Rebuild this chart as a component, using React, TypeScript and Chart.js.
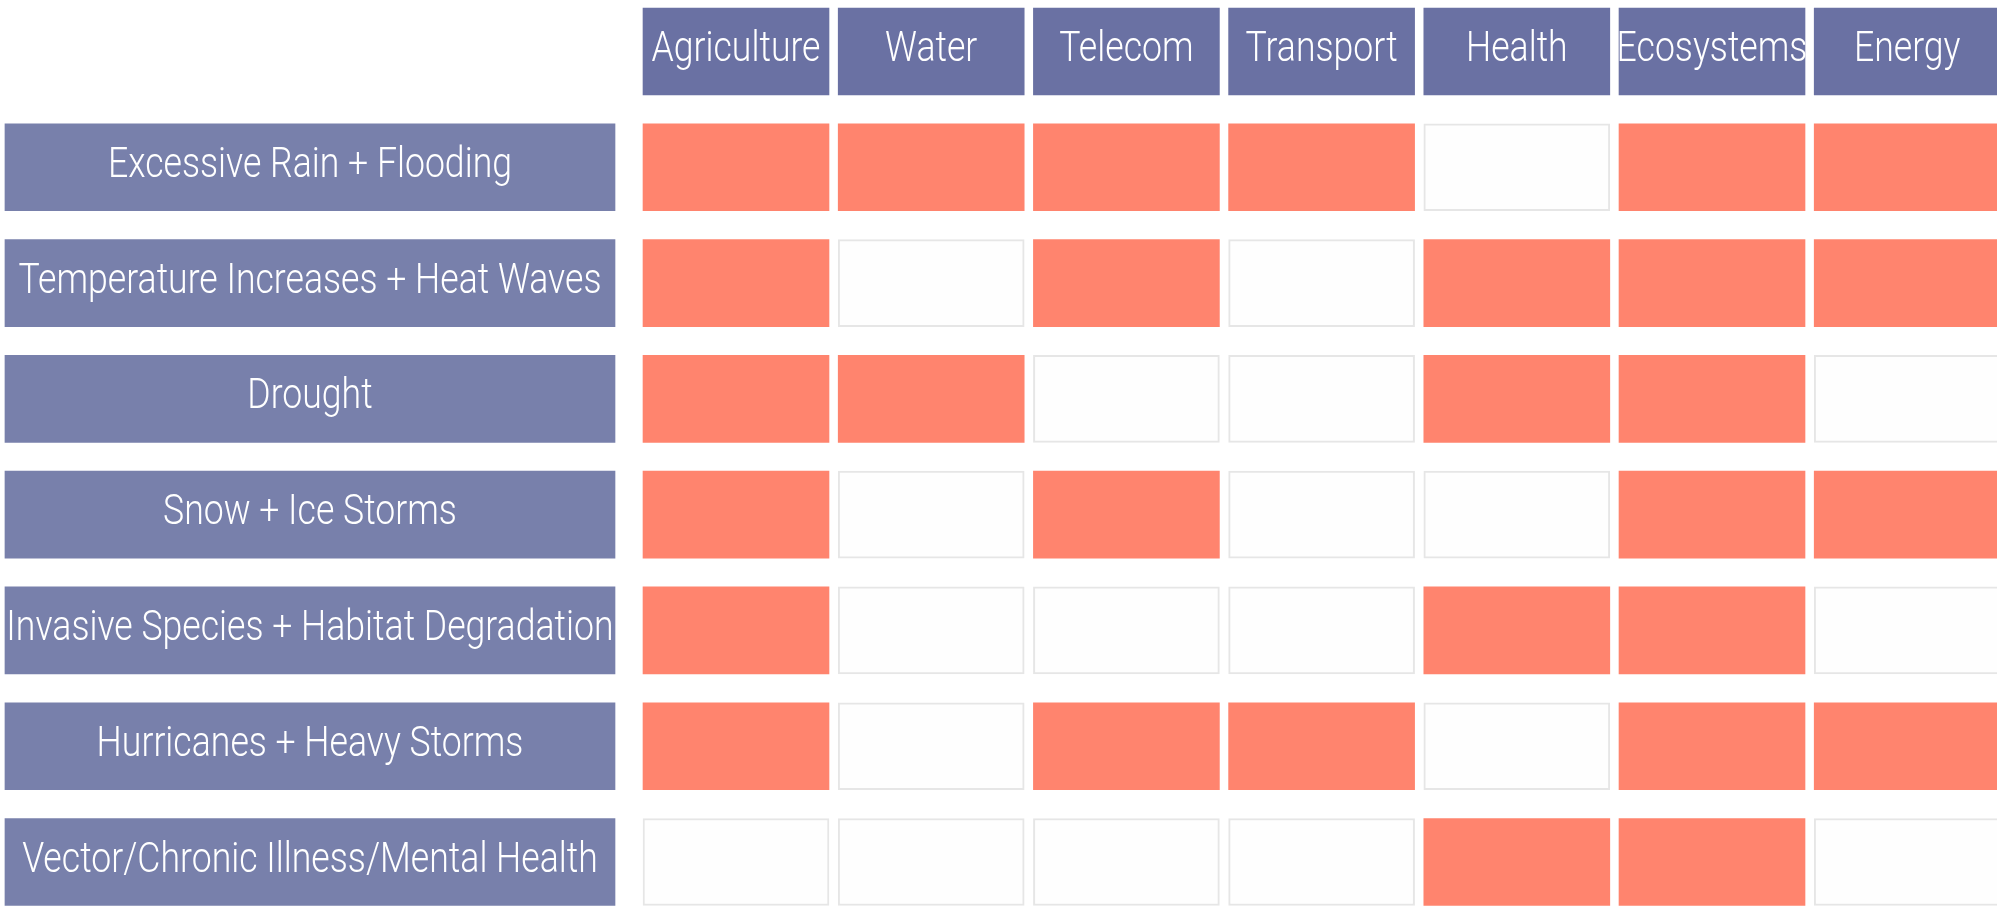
import React, { useEffect, useRef } from "react";
import { Chart, registerables } from "chart.js";

Chart.register(...registerables);

// Sectors (columns) and hazards (rows)
const sectors = ["Agriculture", "Water", "Telecom", "Transport", "Health", "Ecosystems", "Energy"];
const hazards = [
  "Excessive Rain + Flooding",
  "Temperature Increases + Heat Waves",
  "Drought",
  "Snow + Ice Storms",
  "Invasive Species + Habitat Degradation",
  "Hurricanes + Heavy Storms",
  "Vector/Chronic Illness/Mental Health",
];

// 1 = impacted (filled), 0 = not impacted; one value per hazard, in hazard order
const agriculture = [1, 1, 1, 1, 1, 1, 0];
const water = [1, 0, 1, 0, 0, 0, 0];
const telecom = [1, 1, 0, 1, 0, 1, 0];
const transport = [1, 0, 0, 0, 0, 1, 0];
const health = [0, 1, 1, 0, 1, 0, 1];
const ecosystems = [1, 1, 1, 1, 1, 1, 1];
const energy = [1, 1, 0, 1, 0, 1, 0];

const sectorValues = [agriculture, water, telecom, transport, health, ecosystems, energy];

const HEADER_COLOR = "#6a71a3";
const LABEL_COLOR = "#7880ab";
const HIT_COLOR = "#ff846e";
const EMPTY_COLOR = "#fefefe";
const EMPTY_BORDER = "#e6e6e6";
const FONT = "300 42px Roboto, 'Noto Sans', sans-serif";

export default function App() {
  const ref = useRef<HTMLCanvasElement | null>(null);

  useEffect(() => {
    document.body.style.margin = "0";
    const canvas = ref.current;
    if (!canvas) return;

    const rowLabels = ["", ...hazards];
    const HALF = 0.4764;

    const datasets: any[] = sectorValues.map((vals, i) => ({
      label: sectors[i],
      data: [[i - HALF, i + HALF], ...vals.map(() => [i - HALF, i + HALF])],
      text: [sectors[i], ...vals.map(() => null)],
      backgroundColor: (ctx: any) => {
        const idx = ctx.dataIndex;
        if (idx === 0) return HEADER_COLOR;
        return vals[idx - 1] ? HIT_COLOR : EMPTY_COLOR;
      },
      borderColor: (ctx: any) => {
        const idx = ctx.dataIndex;
        if (idx === 0) return HEADER_COLOR;
        return vals[idx - 1] ? HIT_COLOR : EMPTY_BORDER;
      },
      borderWidth: (ctx: any) => {
        const idx = ctx.dataIndex;
        if (idx === 0) return 0;
        return vals[idx - 1] ? 0 : 2;
      },
      borderSkipped: false,
      barThickness: 87,
      clip: false,
    }));

    datasets.unshift({
      label: "Hazard",
      data: [null, ...hazards.map(() => [-3.745, -0.6199])],
      text: [null, ...hazards],
      backgroundColor: LABEL_COLOR,
      borderWidth: 0,
      borderSkipped: false,
      barThickness: 87,
      clip: false,
    });

    const textPlugin = {
      id: "cellText",
      afterDatasetsDraw(chart: any) {
        const c = chart.ctx;
        c.save();
        c.fillStyle = "#ffffff";
        c.font = FONT;
        c.textAlign = "center";
        c.textBaseline = "alphabetic";
        // condensed look: squeeze the glyphs horizontally
        const refW = c.measureText(hazards[0]).width;
        const k = refW > 0 ? 404 / refW : 1;
        chart.data.datasets.forEach((ds: any, di: number) => {
          const meta = chart.getDatasetMeta(di);
          meta.data.forEach((el: any, idx: number) => {
            const t = ds.text && ds.text[idx];
            if (!t) return;
            const p = el.getProps(["x", "y", "base"], true);
            const cx = (p.x + p.base) / 2;
            c.save();
            c.translate(cx, p.y + 9.5);
            c.scale(k, 1);
            c.fillText(t, 0, 0);
            c.restore();
          });
        });
        c.restore();
      },
    };

    const chart = new Chart(canvas, {
      type: "bar",
      data: { labels: rowLabels, datasets },
      options: {
        indexAxis: "y",
        responsive: false,
        animation: false,
        devicePixelRatio: 1,
        layout: { padding: { top: 51.5, bottom: 46, left: 0, right: 0 } },
        plugins: { legend: { display: false }, tooltip: { enabled: false } },
        scales: {
          x: { type: "linear", display: false, min: -3.7705, max: 6.46 },
          y: {
            type: "category",
            display: false,
            offset: false,
            stacked: true,
            grid: { display: false, offset: false },
          },
        },
      },
      plugins: [textPlugin],
    } as any);

    return () => chart.destroy();
  }, []);

  return (
    <div style={{ width: 1997, height: 908, background: "#ffffff" }}>
      <canvas ref={ref} width={1997} height={908} style={{ display: "block" }} />
    </div>
  );
}
